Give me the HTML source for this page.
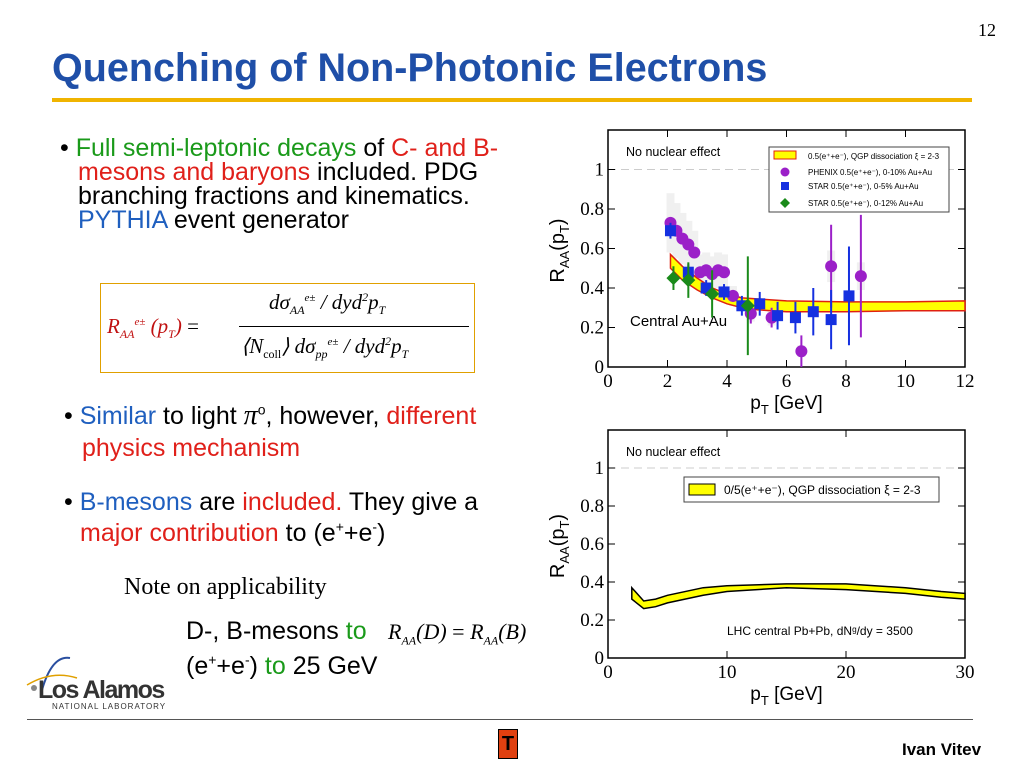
<!DOCTYPE html>
<html><head><meta charset="utf-8"><style>
body{margin:0;width:1024px;height:768px;background:#fff;position:relative;overflow:hidden;font-family:"Liberation Sans",sans-serif}
.a{position:absolute}
.t{font-size:25px;line-height:24px;color:#000;white-space:nowrap}
.t sup{line-height:0;font-size:14px}
.g{color:#1a9a1a}.r{color:#e0201a}.b{color:#1f5fbf}
</style></head><body>
<div class="a" style="left:978px;top:20px;font-family:'Liberation Serif',serif;font-size:18px">12</div>
<div class="a" style="left:52px;top:46px;font-size:39.5px;font-weight:bold;color:#1f4fa8;white-space:nowrap">Quenching of Non-Photonic Electrons</div>
<div class="a" style="left:52px;top:98px;width:920px;height:4px;background:#f0b400"></div>

<div class="a t" style="left:60px;top:136px">• <span class="g">Full semi-leptonic decays</span> of <span class="r">C- and B-</span></div>
<div class="a t" style="left:78px;top:160px"><span class="r">mesons and baryons</span> included. PDG<br>branching fractions and kinematics.<br><span class="b">PYTHIA</span> event generator</div>

<div class="a" style="left:100px;top:283px;width:373px;height:88px;border:1px solid #e0a000;font-family:'Liberation Serif',serif;font-style:italic;font-size:21px">
<div class="a" style="left:6px;top:30px;color:#c01010">R<sub style="font-size:12px">AA</sub><sup style="font-size:11px">e±</sup> (p<sub style="font-size:12px">T</sub>) <span style="color:#000;font-style:normal">=</span></div>
<div class="a" style="left:168px;top:6px">dσ<sub style="font-size:12px">AA</sub><sup style="font-size:11px">e±</sup> / dyd<sup style="font-size:12px">2</sup>p<sub style="font-size:12px">T</sub></div>
<div class="a" style="left:138px;top:42px;width:230px;height:1px;background:#000"></div>
<div class="a" style="left:140px;top:50px">⟨N<sub style="font-size:12px;font-style:normal">coll</sub>⟩ dσ<sub style="font-size:12px">pp</sub><sup style="font-size:11px">e±</sup> / dyd<sup style="font-size:12px">2</sup>p<sub style="font-size:12px">T</sub></div>
</div>

<div class="a t" style="left:64px;top:404px">• <span class="b">Similar</span> to light <span style="font-family:'Liberation Serif',serif;font-style:italic;font-size:28px">π</span><sup>o</sup>, however, <span class="r">different</span></div>
<div class="a t" style="left:82px;top:436px"><span class="r">physics mechanism</span></div>
<div class="a t" style="left:64px;top:490px">• <span class="b">B-mesons</span> are <span class="r">included.</span> They give a</div>
<div class="a t" style="left:80px;top:521px"><span class="r">major contribution</span> to (e<sup>+</sup>+e<sup>-</sup>)</div>
<div class="a" style="left:124px;top:574px;font-family:'Liberation Serif',serif;font-size:24px">Note on applicability</div>
<div class="a t" style="left:186px;top:619px">D-, B-mesons <span class="g">to</span></div>
<div class="a t" style="left:186px;top:654px">(e<sup>+</sup>+e<sup>-</sup>) <span class="g">to</span> 25 GeV</div>
<div class="a" style="left:388px;top:619px;font-family:'Liberation Serif',serif;font-style:italic;font-size:22px;white-space:nowrap">R<sub style="font-size:12px">AA</sub>(D) <span style="font-style:normal">=</span> R<sub style="font-size:12px">AA</sub>(B)</div>

<div class="a" style="left:22px;top:650px;width:170px;height:65px">
<svg width="170" height="65"><path d="M20,40 Q30,5 48,8" stroke="#2a4fa0" stroke-width="2" fill="none"/><path d="M5,35 Q30,20 55,28" stroke="#e0a000" stroke-width="1.5" fill="none"/><circle cx="12" cy="38" r="3" fill="#888"/></svg>
<div class="a" style="left:16px;top:26px;font-size:25px;font-weight:bold;letter-spacing:-1.5px;color:#333">Los Alamos</div>
<div class="a" style="left:30px;top:52px;font-size:8px;letter-spacing:1px;color:#333">NATIONAL LABORATORY</div>
</div>
<div class="a" style="left:27px;top:719px;width:946px;height:1px;background:#555"></div>
<div class="a" style="left:498px;top:729px;width:18px;height:28px;background:#e04010;border:1px solid #000;color:#000;font-weight:bold;font-size:20px;text-align:center;line-height:28px">T</div>
<div class="a" style="left:902px;top:740px;font-size:17px;font-weight:bold">Ivan Vitev</div>

<svg class="a" style="left:0;top:0" width="1024" height="768" id="charts"></svg>

<script>
// ---- top chart data ----
const topBandX=[2.1,2.5,3,3.5,4,4.5,5,6,8,10,12];
const topBandLo=[0.50,0.44,0.39,0.35,0.32,0.30,0.29,0.28,0.28,0.285,0.285];
const topBandHi=[0.57,0.51,0.45,0.40,0.37,0.35,0.345,0.335,0.33,0.33,0.335];
const phenixX=[2.1,2.3,2.5,2.7,2.9,3.1,3.3,3.5,3.7,3.9,4.2,4.8,5.5,6.5,7.5,8.5];
const phenixY=[0.73,0.69,0.65,0.62,0.58,0.48,0.49,0.47,0.49,0.48,0.36,0.27,0.25,0.08,0.51,0.46];
const phenixErr=[0.02,0.02,0.02,0.02,0.02,0.02,0.02,0.02,0.02,0.02,0.03,0.05,0.05,0.08,0.21,0.31];
const phenixSys=[0.15,0.14,0.13,0.12,0.11,0.09,0.09,0.09,0.09,0.09,0.05,0.04,0.04,0.03,0.08,0.07];
const starX=[2.1,2.7,3.3,3.9,4.5,5.1,5.7,6.3,6.9,7.5,8.1];
const starY=[0.69,0.48,0.40,0.38,0.31,0.32,0.26,0.25,0.28,0.24,0.36];
const starErr=[0.04,0.04,0.04,0.04,0.05,0.06,0.07,0.08,0.12,0.15,0.25];
const star2X=[2.2,2.7,3.5,4.7];
const star2Y=[0.45,0.44,0.37,0.31];
const star2Err=[0.06,0.09,0.12,0.25];
const topXTicks=[0,2,4,6,8,10,12];
const topYTicks=[0,0.2,0.4,0.6,0.8,1];
// ---- bottom chart data ----
const botBandX=[2,3,4,5,8,10,15,20,25,28,30];
const botBandLo=[0.31,0.26,0.27,0.29,0.33,0.35,0.37,0.36,0.34,0.32,0.31];
const botBandHi=[0.37,0.30,0.31,0.33,0.37,0.38,0.39,0.39,0.37,0.35,0.34];
const botXTicks=[0,10,20,30];
const botYTicks=[0,0.2,0.4,0.6,0.8,1];

const NS='http://www.w3.org/2000/svg';
const svg=document.getElementById('charts');
function mk(tag,attrs,parent,txt){const e=document.createElementNS(NS,tag);for(const k in attrs)e.setAttribute(k,attrs[k]);if(txt!==undefined)e.textContent=txt;(parent||svg).appendChild(e);return e;}

function axes(L,R,T,B,xmax,ymax,xt,yt,name){
  const g=mk('g',{});
  
  
  const sx=v=>L+(R-L)*v/xmax, sy=v=>B-(B-T)*v/ymax;
  mk('rect',{x:L,y:T,width:R-L,height:B-T,fill:'#fff',stroke:'#000','stroke-width':1.5},g);
  mk('line',{x1:L,x2:R,y1:sy(1),y2:sy(1),stroke:'#ccc','stroke-dasharray':'8,5'},g);
  xt.forEach(v=>{mk('line',{x1:sx(v),x2:sx(v),y1:B,y2:B-7,stroke:'#000'},g);mk('line',{x1:sx(v),x2:sx(v),y1:T,y2:T+7,stroke:'#000'},g);
    const t=mk('text',{x:sx(v),y:B+20,'text-anchor':'middle','font-family':'Liberation Serif','font-size':19},g,String(v));
    });
  yt.forEach(v=>{mk('line',{x1:L,x2:L+7,y1:sy(v),y2:sy(v),stroke:'#000'},g);mk('line',{x1:R,x2:R-7,y1:sy(v),y2:sy(v),stroke:'#000'},g);
    const t=mk('text',{x:L-4,y:sy(v)+6,'text-anchor':'end','font-family':'Liberation Serif','font-size':19},g,String(v));
    });
  const xl=mk('text',{x:(L+R)/2,y:B+42,'text-anchor':'middle','font-size':19},g);
  xl.innerHTML='p<tspan font-size="13" dy="5">T</tspan><tspan dy="-5"> [GeV]</tspan>';
  
  const yl=mk('text',{transform:`translate(${L-44},${(T+B)/2+2}) rotate(-90)`,'text-anchor':'middle','font-size':20},g);
  yl.innerHTML='R<tspan font-size="13" dy="5">AA</tspan><tspan dy="-5">(p</tspan><tspan font-size="13" dy="5">T</tspan><tspan dy="-5">)</tspan>';
  
  mk('text',{x:L+18,y:T+26,'font-size':12.5},g,'No nuclear effect');
  return {sx,sy};
}
function band(xs,lo,hi,sx,sy,stroke,name){
  let d='M'+xs.map((x,i)=>sx(x)+','+sy(hi[i])).join('L');
  d+='L'+xs.slice().reverse().map((x,j)=>{const i=xs.length-1-j;return sx(x)+','+sy(lo[i]);}).join('L')+'Z';
  const p=mk('path',{d,fill:'#ffff00',stroke,'stroke-width':1.5});
  
}
// top
let A=axes(608,965,130,367,12,1.2,topXTicks,topYTicks,'top-chart');
phenixX.forEach((x,i)=>{const s=mk('rect',{x:A.sx(x)-4,y:A.sy(phenixY[i]+phenixSys[i]),width:8,height:A.sy(phenixY[i]-phenixSys[i])-A.sy(phenixY[i]+phenixSys[i]),fill:'#f0f0f0'});
  });
band(topBandX,topBandLo,topBandHi,A.sx,A.sy,'#e02010','top-model-band');
mk('text',{x:630,y:326,'font-size':15},svg,'Central Au+Au');
function series(xs,ys,es,color,shape,name){
  xs.forEach((x,i)=>{const X=A.sx(x),Y=A.sy(ys[i]);
    mk('line',{x1:X,x2:X,y1:A.sy(ys[i]+es[i]),y2:A.sy(Math.max(0,ys[i]-es[i])),stroke:color,'stroke-width':2});
    let m;
    if(shape==='c')m=mk('circle',{cx:X,cy:Y,r:6,fill:color});
    else if(shape==='s')m=mk('rect',{x:X-5.5,y:Y-5.5,width:11,height:11,fill:color});
    else m=mk('path',{d:`M${X},${Y-7}L${X+7},${Y}L${X},${Y+7}L${X-7},${Y}Z`,fill:color});
    });
}
series(phenixX,phenixY,phenixErr,'#9b20c8','c','phenix-point');
series(starX,starY,starErr,'#1530e0','s','star-point');
series(star2X,star2Y,star2Err,'#1a8a1a','d','star-12-point');
const lg=mk('g',{});

mk('rect',{x:769,y:147,width:180,height:65,fill:'#fff',stroke:'#444'},lg);
mk('rect',{x:774,y:151,width:22,height:8,fill:'#ffff00',stroke:'#e02010'},lg);
mk('circle',{cx:785,cy:172,r:4.5,fill:'#9b20c8'},lg);
mk('rect',{x:781,y:182,width:8,height:8,fill:'#1530e0'},lg);
mk('path',{d:'M785,198L790,203L785,208L780,203Z',fill:'#1a8a1a'},lg);
[['0.5(e⁺+e⁻), QGP dissociation ξ = 2-3',159],['PHENIX 0.5(e⁺+e⁻), 0-10% Au+Au',175],['STAR 0.5(e⁺+e⁻), 0-5% Au+Au',189],['STAR 0.5(e⁺+e⁻), 0-12% Au+Au',206]].forEach(([t,y])=>mk('text',{x:808,y,'font-size':8},lg,t));
// bottom
A=axes(608,965,430,658,30,1.2,botXTicks,botYTicks,'bottom-chart');
band(botBandX,botBandLo,botBandHi,A.sx,A.sy,'#000','bottom-model-band');
const lg2=mk('g',{});

mk('rect',{x:684,y:477,width:255,height:25,fill:'#fff',stroke:'#444'},lg2);
mk('rect',{x:689,y:484,width:26,height:11,fill:'#ffff00',stroke:'#000'},lg2);
mk('text',{x:724,y:494,'font-size':12},lg2,'0/5(e⁺+e⁻), QGP dissociation ξ = 2-3');
mk('text',{x:727,y:635,'font-size':12},svg,'LHC central Pb+Pb, dNᵍ/dy = 3500');
</script>
</body></html>
